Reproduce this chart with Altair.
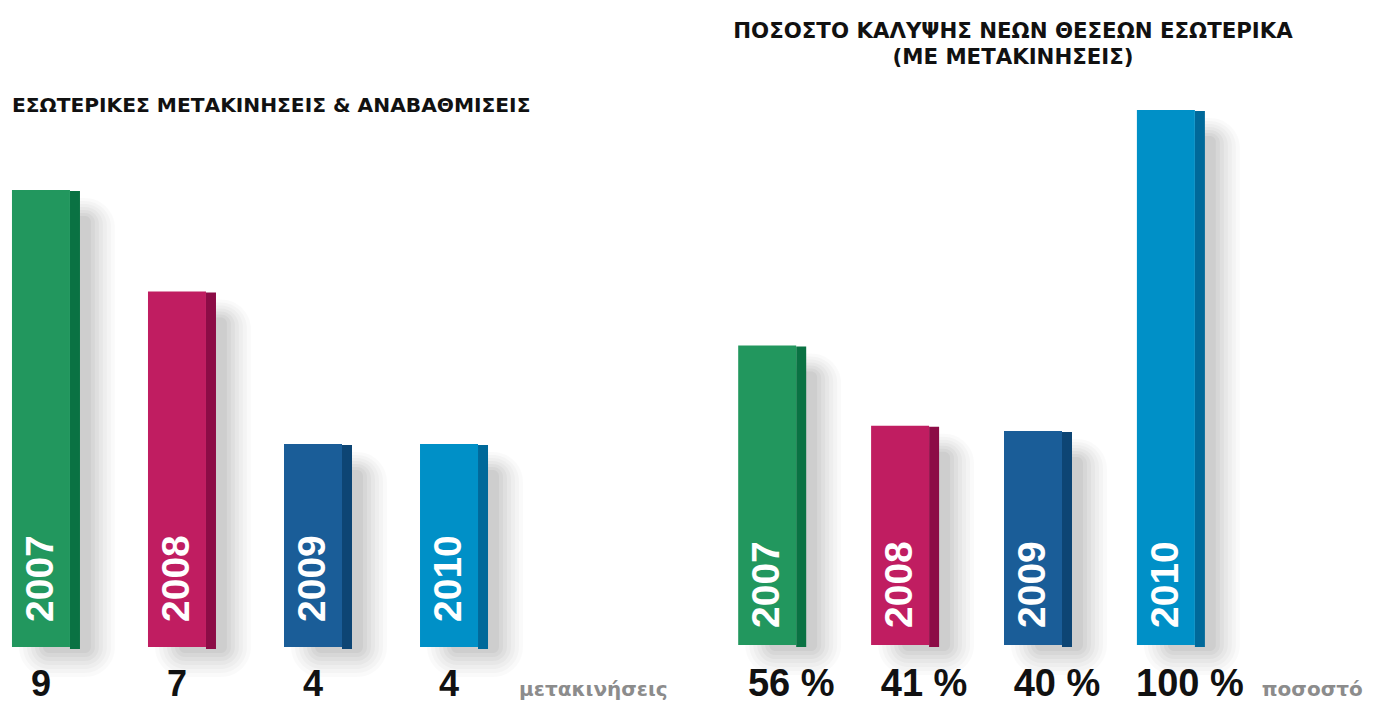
import altair as alt
import pandas as pd

# ---------------- data ----------------
years = ["2007", "2008", "2009", "2010"]
moves = [9, 7, 4, 4]
move_labels = ["9", "7", "4", "4"]
shares = [56, 41, 40, 100]
share_labels = ["56 %", "41 %", "40 %", "100 %"]
front_colors = ["#22975E", "#C01D61", "#1A5D98", "#0090C7"]
side_colors = ["#0A7243", "#8C0C46", "#0D4574", "#00699A"]
left_title = "ΕΣΩΤΕΡΙΚΕΣ ΜΕΤΑΚΙΝΗΣΕΙΣ & ΑΝΑΒΑΘΜΙΣΕΙΣ"
right_title = "ΠΟΣΟΣΤΟ ΚΑΛΥΨΗΣ ΝΕΩΝ ΘΕΣΕΩΝ ΕΣΩΤΕΡΙΚΑ\n(ΜΕ ΜΕΤΑΚΙΝΗΣΕΙΣ)"
left_unit = "μετακινήσεις"
right_unit = "ποσοστό"

TITLE_FONT = "DejaVu Sans"
NUM_FONT = "Liberation Sans"
YEAR_FONT = "Liberation Sans"

PANEL_H = 695

SHADOWS = [
    # width, xOffset, yOffset(top), y2Offset(bottom), opacity, cornerRadius
    (96, 26, 8, 30, 0.02, 30),
    (88, 26, 11, 26, 0.022, 26),
    (80, 26, 14, 22, 0.025, 22),
    (72, 26, 17, 18, 0.028, 18),
    (64, 26, 20, 14, 0.032, 14),
    (56, 26, 23, 10, 0.036, 10),
    (48, 26, 26, 6, 0.04, 6),
]


def panel(values, labels, unit, title, width, pad_inner, pad_outer, y_domain,
          year_y, label_y, label_size, label_dx, unit_dx, title_x, title_y,
          title_align, title_size):
    df = pd.DataFrame({
        "year": years,
        "value": values,
        "label": labels,
        "front": front_colors,
        "side": side_colors,
    })
    cats = years + [unit]
    x = alt.X("year:N", sort=cats,
              scale=alt.Scale(domain=cats, paddingInner=pad_inner,
                              paddingOuter=pad_outer),
              axis=None)
    y = alt.Y("value:Q", scale=alt.Scale(domain=y_domain, nice=False, zero=False),
              axis=None)
    base = alt.Chart(df).encode(x=x)

    layers = []
    for w, xo, yo, y2o, op, cr in SHADOWS:
        layers.append(
            base.mark_bar(color="#000000", opacity=op, width=w, xOffset=xo,
                          yOffset=yo, y2Offset=y2o, cornerRadius=cr)
            .encode(y=y, y2=alt.datum(0))
        )
    # side face
    layers.append(
        base.mark_bar(width=10, xOffset=34, yOffset=1, y2Offset=2)
        .encode(y=y, y2=alt.datum(0), color=alt.Color("side:N", scale=None))
    )
    # front face
    layers.append(
        base.mark_bar(width=58)
        .encode(y=y, y2=alt.datum(0), color=alt.Color("front:N", scale=None))
    )
    # year inside bars
    layers.append(
        base.mark_text(angle=270, align="left", baseline="middle", font=YEAR_FONT,
                       fontWeight="bold", fontSize=39, color="white")
        .encode(y=alt.value(year_y), text="year:N")
    )
    # value labels below bars
    layers.append(
        base.mark_text(align="center", baseline="alphabetic", font=NUM_FONT,
                       fontWeight="bold", fontSize=label_size, color="#111111",
                       dx=label_dx)
        .encode(y=alt.value(label_y), text="label:N")
    )
    # unit label
    udf = pd.DataFrame({"year": [unit], "text": [unit]})
    layers.append(
        alt.Chart(udf).mark_text(align="left", baseline="alphabetic", font=TITLE_FONT,
                                 fontWeight="bold", fontSize=20, color="#8C8C8C",
                                 dx=unit_dx)
        .encode(x=x, y=alt.value(label_y), text="text:N")
    )
    # title
    tdf = pd.DataFrame({"t": [title]})
    layers.append(
        alt.Chart(tdf).mark_text(align=title_align, baseline="alphabetic",
                                 font=TITLE_FONT, fontWeight="bold",
                                 fontSize=title_size, lineBreak="\n",
                                 lineHeight=26, color="#111111")
        .encode(x=alt.value(title_x), y=alt.value(title_y), text="t:N")
    )
    return alt.layer(*layers).properties(width=width, height=PANEL_H)


left = panel(moves, move_labels, left_unit, left_title,
             width=610, pad_inner=0.574, pad_outer=0.0294,
             y_domain=[-1.103, 12.584], year_y=614, label_y=688,
             label_size=36, label_dx=0, unit_dx=-66,
             title_x=4, title_y=104, title_align="left", title_size=20.2)

right = panel(shares, share_labels, right_unit, right_title,
              width=656, pad_inner=0.564, pad_outer=0.25,
              y_domain=[-10.84, 119.07], year_y=620, label_y=688,
              label_size=38, label_dx=24, unit_dx=-37,
              title_x=308, title_y=30, title_align="center", title_size=21.3)

chart = (
    alt.hconcat(left, right, spacing=87, bounds="flush")
    .properties(padding=0, background="white")
    .configure_view(stroke=None)
)

chart.save("out.html", embed_options={"renderer": "svg", "actions": False})
